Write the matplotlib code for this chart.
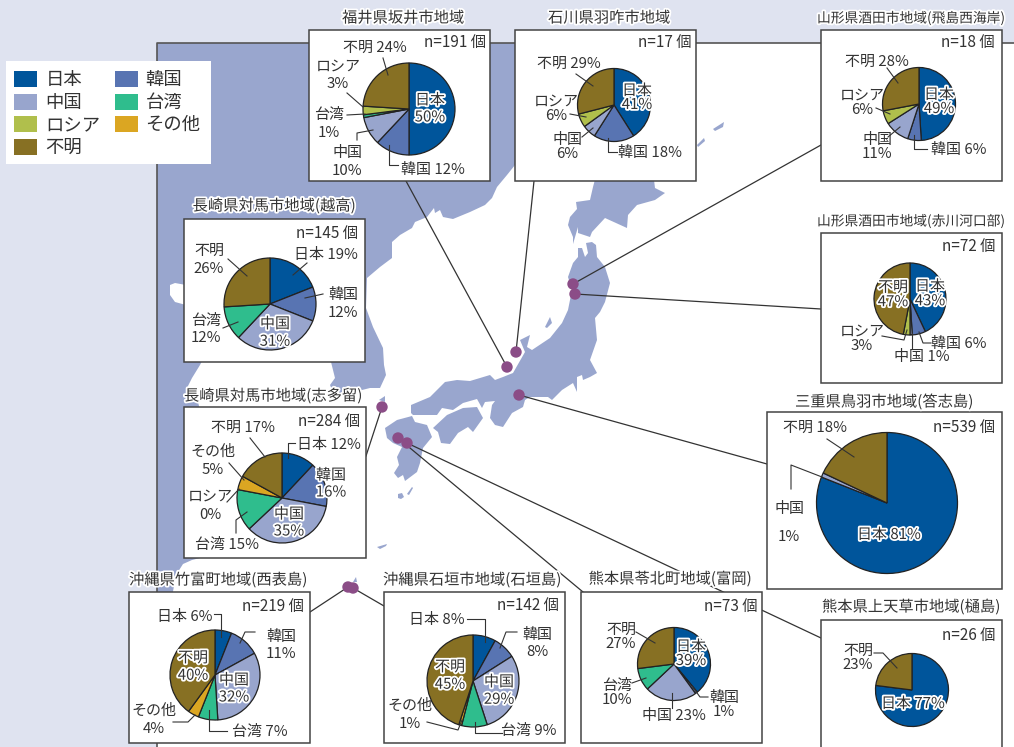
import matplotlib
matplotlib.use("Agg")
import matplotlib.pyplot as plt
import matplotlib.patheffects as pe
from matplotlib.patches import Polygon, Rectangle, Circle

plt.rcParams['font.family'] = ['Noto Sans CJK JP', 'DejaVu Sans']

W, H = 1014, 747

# data
categories = ['日本', '韓国', '中国', '台湾', 'ロシア', 'その他', '不明']
sites = ['福井県坂井市地域', '石川県羽咋市地域', '山形県酒田市地域(飛島西海岸)',
         '山形県酒田市地域(赤川河口部)', '長崎県対馬市地域(越高)', '長崎県対馬市地域(志多留)',
         '三重県鳥羽市地域(答志島)', '沖縄県竹富町地域(西表島)', '沖縄県石垣市地域(石垣島)',
         '熊本県苓北町地域(富岡)', '熊本県上天草市地域(樋島)']
counts = [191, 17, 18, 72, 145, 284, 539, 219, 142, 73, 26]
sakai = [50, 12, 10, 1, 3, 0, 24]
hakui = [41, 18, 6, 0, 6, 0, 29]
tobishima = [49, 6, 11, 0, 6, 0, 28]
akagawa = [43, 6, 1, 0, 3, 0, 47]
koshitaka = [19, 12, 31, 12, 0, 0, 26]
shitaru = [12, 16, 35, 15, 0, 5, 17]
toshijima = [81, 0, 1, 0, 0, 0, 18]
iriomote = [6, 11, 32, 7, 0, 4, 40]
ishigaki = [8, 8, 29, 9, 0, 1, 45]
tomioka = [39, 1, 23, 10, 0, 0, 27]
hishima = [77, 0, 0, 0, 0, 0, 23]
site_values = [sakai, hakui, tobishima, akagawa, koshitaka, shitaru,
               toshijima, iriomote, ishigaki, tomioka, hishima]

# styles
colors = ['#00559b', '#5874b2', '#98a5cd', '#2fbd8d', '#b0bf4c', '#dba622', '#877023']
LAND = '#99a6ce'
OUTER = '#dfe3f0'
DOT = '#8b4d87'
TXT = '#333333'
LINE = '#333333'

# layout, all in image pixels, y going down
boxes = [(309, 30, 490, 181), (515, 30, 696, 181), (821, 30, 1002, 181),
         (821, 233, 1002, 383), (184, 219, 365, 362), (184, 407, 366, 558),
         (767, 412, 1002, 589), (129, 592, 310, 743), (384, 592, 565, 743),
         (581, 592, 762, 743), (821, 620, 1002, 752)]
pies = [(409, 109, 46), (614, 105, 36.5), (919, 104, 36.5), (910, 299, 36),
        (270, 304, 46), (282, 498, 45), (887, 503, 70.5), (215, 675, 45),
        (473, 681, 46), (674, 664, 36.5), (912, 690, 36.5)]
title_pos = [(403, 17), (609, 17), (911, 17), (911, 220), (274, 205), (273, 395),
             (884, 401), (218, 579), (472, 579), (670, 578), (911, 606)]
title_size = [11, 11, 9.9, 9.9, 11, 11, 11, 11, 11, 11, 11]
n_pos = [(486, 41), (691, 41), (995, 41), (995, 245), (358, 232), (360, 420),
         (995, 426), (304, 605), (559, 604), (757, 605), (995, 634)]

# (category index, x, y, gap between the two lines or 0 for one line, halo)
label_spots = [
    [(6, 375, 47, 0, 0), (4, 338, 74, 17.5, 0), (3, 329, 123, 17.5, 0), (2, 347, 161, 17.5, 0),
     (1, 433, 169, 0, 0), (0, 430, 108, 17, 1)],
    [(6, 569, 63, 0, 0), (0, 637, 97, 14, 1), (4, 556, 108, 14.5, 0), (2, 567, 146, 14.5, 0),
     (1, 650, 152, 0, 0)],
    [(6, 877, 61, 0, 0), (0, 939, 101, 14, 1), (4, 862, 102, 14.5, 0), (2, 877, 146, 14.5, 0),
     (1, 959, 149, 0, 0)],
    [(0, 930, 293, 14.5, 1), (6, 893, 294, 14.5, 1), (4, 862, 338, 14.5, 0), (2, 922, 356, 0, 0),
     (1, 959, 343, 0, 0)],
    [(0, 326, 254, 0, 0), (1, 343, 303, 17.5, 0), (2, 275, 332, 17.5, 1), (3, 206, 328, 17, 0),
     (6, 209, 259, 17.5, 0)],
    [(6, 243, 427, 0, 0), (0, 329, 444, 0, 0), (1, 331, 483, 17, 1), (2, 289, 522, 17, 1),
     (3, 227, 544, 0, 0), (4, 210, 505, 18, 0), (5, 213, 460, 18, 0)],
    [(6, 815, 427, 0, 0), (0, 889, 534, 0, 1), (2, 789, 522, 28, 0)],
    [(0, 185, 616, 0, 0), (1, 281, 644, 17, 0), (2, 234, 688, 17, 1), (3, 260, 731, 0, 0),
     (5, 154, 719, 18, 0), (6, 193, 666, 17.5, 1)],
    [(0, 437, 619, 0, 0), (1, 537, 643, 17, 0), (2, 499, 690, 17.5, 1), (3, 529, 730, 0, 0),
     (5, 410, 714, 18, 0), (6, 450, 675, 17.5, 1)],
    [(0, 691, 653, 14, 1), (6, 621, 636, 14, 0), (3, 617, 692, 14, 0), (2, 674, 715, 0, 0),
     (1, 724, 704, 14, 0)],
    [(6, 858, 657, 14, 0), (0, 913, 703, 0, 1)],
]

leaders = [
    [(383, 58), (388, 75)], [(347, 93), (363, 107)], [(347, 115), (365, 114)],
    [(357, 140), (357, 133), (373, 130)], [(389, 145), (389, 165), (398, 165)],
    [(576, 74), (593, 86)], [(570, 114), (586, 117)], [(582, 137), (593, 128)],
    [(608, 138), (608, 152), (617, 152)],
    [(887, 68), (898, 83)], [(876, 108), (890, 114)], [(888, 137), (900, 127)],
    [(914, 135), (914, 149), (927, 149)],
    [(882, 336), (904, 340), (907, 330)], [(912, 333), (912, 348)],
    [(919, 332), (923, 343), (931, 343)],
    [(307, 263), (293, 275)], [(323, 294), (305, 298)], [(223, 328), (238, 322)],
    [(228, 259), (247, 276)],
    [(250, 438), (265, 457)], [(295, 443), (288, 443), (288, 458)], [(229, 463), (244, 480)],
    [(227, 502), (239, 489)], [(236, 533), (236, 520), (247, 512)],
    [(827, 439), (854, 457)], [(791, 489), (791, 465), (822, 477)],
    [(214, 614), (221, 614), (221, 637)], [(255, 632), (245, 632), (240, 643)],
    [(173, 722), (188, 722), (195, 715)], [(209, 710), (209, 731), (227, 731)],
    [(467, 619), (485, 619), (485, 642)], [(517, 632), (506, 632), (500, 648)],
    [(427, 722), (458, 730), (462, 720)], [(475, 722), (475, 733), (502, 733)],
    [(636, 632), (655, 643)], [(632, 683), (646, 678)], [(672, 693), (672, 708)],
    [(708, 697), (700, 697), (692, 686)],
    [(874, 653), (883, 653), (897, 668)],
]

dots = [(507, 367), (516, 352), (573, 284), (575, 294), (519, 395), (382, 407),
        (398, 438), (407, 443), (348, 587), (353, 588)]
connectors = [[(507, 367), (406, 181)], [(516, 352), (534, 181)], [(573, 284), (821, 145)],
              [(575, 294), (821, 309)], [(519, 395), (767, 464)], [(382, 407), (366, 456)],
              [(407, 443), (821, 638)], [(398, 438), (583, 592)],
              [(348, 587), (310, 612)], [(353, 588), (384, 606)]]

# map outlines
continent = [(157, 43), (515, 43), (515, 165), (507, 175), (497, 187), (492, 198), (485, 205),
             (470, 212), (453, 219), (443, 217), (440, 210), (435, 213), (434, 208), (427, 217),
             (415, 222), (412, 228), (400, 235), (392, 242), (392, 258), (380, 267), (367, 278),
             (366, 308), (373, 327), (383, 348), (384, 365), (386, 375), (380, 388), (370, 388),
             (350, 393), (335, 397), (330, 385), (335, 378), (331, 362), (300, 340), (210, 345),
             (200, 365), (192, 378), (187, 388), (198, 402), (200, 410), (200, 558), (192, 560),
             (183, 564), (176, 575), (172, 597), (157, 597)]
liaodong = [(170, 285), (175, 283), (186, 285), (186, 305), (175, 302), (170, 295)]
hokkaido = [(576, 202), (590, 200), (593, 187), (597, 172), (653, 172), (655, 188), (665, 193),
            (655, 200), (637, 205), (628, 215), (627, 228), (605, 218), (592, 232), (590, 237),
            (578, 233), (578, 227), (573, 244), (573, 237), (568, 225), (570, 217), (577, 209)]
honshu = [(578, 248), (582, 248), (585, 257), (588, 253), (586, 243), (592, 242), (596, 245),
          (597, 257), (605, 267), (610, 283), (605, 302), (600, 312), (595, 318), (597, 340),
          (590, 360), (597, 373), (590, 377), (583, 380), (582, 375), (577, 377), (577, 392),
          (573, 383), (562, 390), (552, 400), (548, 397), (530, 397), (525, 400), (523, 407),
          (512, 413), (503, 427), (495, 425), (490, 418), (492, 405), (495, 401), (485, 402),
          (482, 408), (477, 399), (463, 403), (453, 410), (442, 408), (437, 415), (413, 415),
          (411, 413), (411, 405), (430, 397), (445, 382), (457, 380), (470, 381), (490, 375),
          (495, 380), (503, 377), (513, 373), (525, 352), (520, 340), (530, 335), (527, 347),
          (532, 350), (550, 338), (562, 323), (568, 310), (572, 290), (568, 277), (573, 263),
          (578, 257)]
shikoku = [(433, 428), (447, 415), (463, 408), (477, 407), (483, 418), (473, 432), (468, 427),
           (458, 433), (450, 444), (441, 443), (438, 432)]
kyushu = [(385, 428), (397, 420), (412, 416), (415, 422), (427, 425), (432, 437), (423, 448),
          (420, 463), (417, 472), (405, 481), (403, 475), (398, 478), (394, 473), (399, 465),
          (397, 457), (402, 447), (393, 443), (387, 438)]
small_islands = [
    [(545, 327), (550, 317), (552, 323), (547, 328)],
    [(697, 145), (704, 138), (705, 141), (698, 147)],
    [(713, 129), (724, 122), (723, 127), (715, 131)],
    [(407, 494), (412, 487), (413, 488), (409, 495)],
    [(398, 494), (402, 493), (404, 497), (401, 499), (398, 498)],
    [(377, 547), (387, 544), (386, 546), (380, 549)],
    [(353, 582), (356, 577), (357, 582)],
    [(379, 400), (385, 396), (385, 402)],
]

fig = plt.figure(figsize=(W / 100, H / 100), dpi=100)

bg = fig.add_axes([0, 0, 1, 1], zorder=0)
bg.set_xlim(0, W)
bg.set_ylim(H, 0)
bg.axis('off')
bg.add_patch(Rectangle((0, 0), W, H, fc=OUTER, ec='none'))
bg.add_patch(Rectangle((157, 43), W - 157, H - 43, fc='white', ec='none'))

bg.add_patch(Polygon(continent, fc=LAND, ec='none'))
bg.add_patch(Polygon(liaodong, fc='white', ec='none'))
for shape in [hokkaido, honshu, shikoku, kyushu] + small_islands:
    bg.add_patch(Polygon(shape, fc=LAND, ec='none'))

bg.plot([157, 157, W], [H, 43, 43], color='#555555', lw=1.2)

for seg in connectors:
    bg.plot([p[0] for p in seg], [p[1] for p in seg], color=LINE, lw=0.9)
for x, y in dots:
    bg.add_patch(Circle((x, y), 5.7, fc=DOT, ec='none', zorder=3))

for x0, y0, x1, y1 in boxes:
    bg.add_patch(Rectangle((x0, y0), x1 - x0, y1 - y0, fc='white', ec='#444444', lw=1.1, zorder=4))

# legend
bg.add_patch(Rectangle((6, 61), 205, 103, fc='white', ec='none', zorder=4))
legend_order = [0, 2, 4, 6, 1, 3, 5]
legend_y = [79, 102, 124, 147]
for i, cat in enumerate(legend_order):
    col = i // 4
    row = i % 4
    bg.add_patch(Rectangle((14 + col * 101, legend_y[row] - 8), 23, 16, fc=colors[cat], ec='none', zorder=5))
    bg.text(45.5 + col * 100, legend_y[row] + 1, categories[cat], fontsize=13.2, color=TXT,
            va='center', ha='left', zorder=5)

# pies
for (cx, cy, r), vals in zip(pies, site_values):
    ax = fig.add_axes([(cx - r) / W, 1 - (cy + r) / H, 2 * r / W, 2 * r / H], zorder=1)
    keep = [i for i, v in enumerate(vals) if v > 0]
    wedges, _ = ax.pie([vals[i] for i in keep], colors=[colors[i] for i in keep], startangle=90,
                       counterclock=False, radius=1,
                       wedgeprops=dict(edgecolor='#222222', linewidth=0.9))
    for w in wedges:
        w.set_clip_on(False)
    ax.set_xlim(-1, 1)
    ax.set_ylim(-1, 1)
    ax.axis('off')

# text and leader lines on top
top = fig.add_axes([0, 0, 1, 1], zorder=2)
top.set_xlim(0, W)
top.set_ylim(H, 0)
top.axis('off')
top.patch.set_alpha(0)

halo = [pe.withStroke(linewidth=2.6, foreground='white')]

for seg in leaders:
    top.plot([p[0] for p in seg], [p[1] for p in seg], color=LINE, lw=0.8)

for name, (x, y), size in zip(sites, title_pos, title_size):
    top.text(x, y + 1, name, fontsize=size, color=TXT, ha='center', va='center', path_effects=halo)

for n, (x, y) in zip(counts, n_pos):
    top.text(x, y + 1, 'n=%d 個' % n, fontsize=11, color=TXT, ha='right', va='center')

for vals, spots in zip(site_values, label_spots):
    for cat, x, y, gap, white in spots:
        eff = halo if white else None
        name = categories[cat]
        pct = '%d%%' % vals[cat]
        if gap:
            top.text(x, y - gap / 2 + 1, name, fontsize=10.8, color=TXT, ha='center', va='center', path_effects=eff)
            top.text(x, y + gap / 2 + 1, pct, fontsize=10.8, color=TXT, ha='center', va='center', path_effects=eff)
        else:
            top.text(x, y + 1, name + ' ' + pct, fontsize=10.8, color=TXT, ha='center', va='center', path_effects=eff)

fig.savefig('out.png', dpi=100)
